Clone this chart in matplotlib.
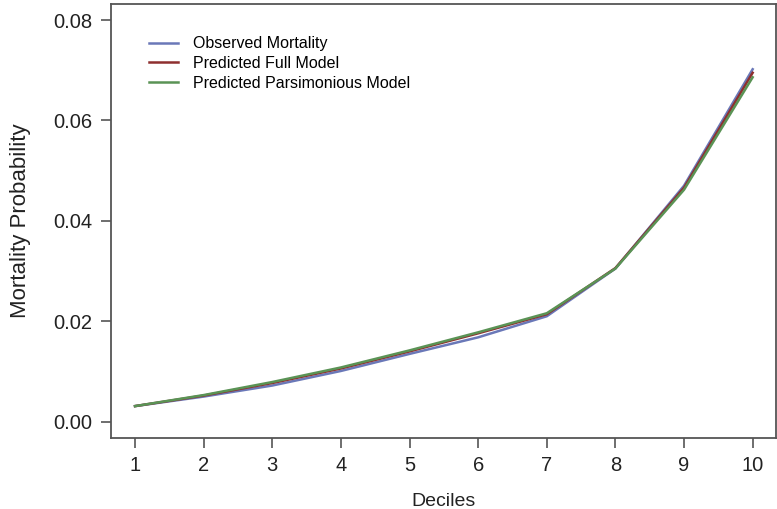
import numpy as np
from matplotlib import pyplot as plt

deciles = [1, 2, 3, 4, 5, 6, 7, 8, 9, 10]
observed = [0.0031, 0.0050, 0.0072, 0.0101, 0.0135, 0.0168, 0.0210, 0.0305, 0.0470, 0.0702]
pred_full = [0.0031, 0.0052, 0.0077, 0.0106, 0.0140, 0.0176, 0.0214, 0.0306, 0.0466, 0.0695]
pred_pars = [0.0031, 0.0053, 0.0079, 0.0108, 0.0142, 0.0178, 0.0216, 0.0305, 0.0462, 0.0686]

plt.rcParams['font.family'] = ['Liberation Sans', 'DejaVu Sans']

fig = plt.figure(figsize=(7.77, 5.09), dpi=100)
ax = fig.add_axes([0.1429, 0.1401, 0.8558, 0.8511])

ax.plot(deciles, observed, color='#6a78b8', lw=1.8, label='Observed Mortality')
ax.plot(deciles, pred_full, color='#8e2f2f', lw=1.8, label='Predicted Full Model')
ax.plot(deciles, pred_pars, color='#5a9355', lw=1.8, label='Predicted Parsimonious Model')

ax.set_xlim(0.65, 10.34)
ax.set_ylim(-0.00319, 0.0831)
ax.set_xticks(deciles)
ax.set_yticks([0.0, 0.02, 0.04, 0.06, 0.08])
ax.set_yticklabels(['0.00', '0.02', '0.04', '0.06', '0.08'])

for s in ax.spines.values():
    s.set_color('#555555')
    s.set_linewidth(1.3)
ax.tick_params(length=7, width=1.2, color='#555555', labelsize=14.5,
               labelcolor='#222222', pad=6.5)

ax.set_xlabel('Deciles', fontsize=14, color='#222222', labelpad=13)
ax.set_ylabel('Mortality Probability', fontsize=16, color='#222222', labelpad=16)

ax.legend(loc='upper left', bbox_to_anchor=(0.057, 0.927), frameon=False,
          fontsize=11.5, handlelength=1.85, handletextpad=0.9, labelspacing=0.3,
          borderpad=0, borderaxespad=0)

plt.savefig('out.png', dpi=100)
